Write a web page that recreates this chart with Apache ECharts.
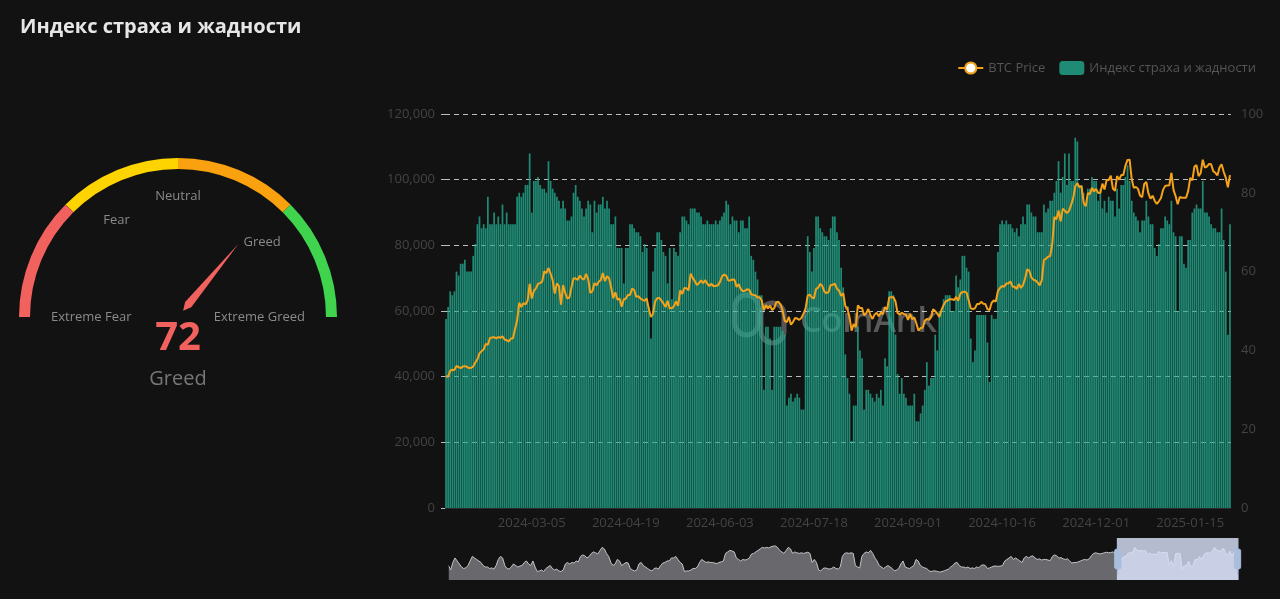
<!DOCTYPE html>
<html>
<head>
<meta charset="utf-8">
<script src="https://cdn.jsdelivr.net/npm/echarts@6/dist/echarts.min.js"></script>
<style>
html,body{margin:0;padding:0;background:#121212;}
#chart{width:1280px;height:599px;}
</style>
</head>
<body>
<div id="chart"></div>
<script>
// ---------- DATA ----------
const chartTitle = 'Индекс страха и жадности';
const seriesNames = ['BTC Price', 'Индекс страха и жадности'];
const firstDate = '2024-01-24';
const lastDate = '2025-02-03';
const missingDates = ['2024-10-25'];
const tickLabels = ['2024-03-05','2024-04-19','2024-06-03','2024-07-18','2024-09-01','2024-10-16','2024-12-01','2025-01-15'];
const gaugeLabels = {0: 'Extreme Fear', 30: 'Fear', 50: 'Neutral', 80: 'Greed', 100: 'Extreme Greed'};
const gaugeStateName = 'Greed';

const fearGreed = [
48,51,55,54,55,60,59,62,62,63,
60,60,60,64,67,72,74,71,72,71,
79,72,72,75,72,74,72,77,72,75,
72,72,72,72,79,80,79,80,82,82,
90,75,83,83,84,82,81,81,80,88,
83,81,80,79,78,76,78,76,73,73,
74,80,82,79,78,76,74,76,78,77,
70,78,75,77,77,79,76,78,76,72,
72,74,66,66,66,57,66,66,72,72,
71,70,70,69,65,67,66,51,43,60,
66,70,70,68,65,64,57,66,53,66,
65,64,70,74,74,73,72,76,76,76,
75,75,74,72,72,73,72,72,72,73,
72,73,74,75,78,77,72,74,73,73,
70,73,73,71,71,74,64,63,60,58,
54,54,30,46,46,43,30,46,46,46,
46,45,44,26,28,29,27,28,29,28,
25,25,49,69,65,60,66,74,74,71,
70,69,69,68,71,74,74,70,68,61,
56,39,33,29,17,26,26,46,40,38,
25,30,30,29,28,27,29,28,30,26,
38,36,55,55,54,44,34,29,33,29,
28,26,26,26,29,22,22,24,26,30,
37,31,33,33,44,40,50,50,53,54,
54,54,50,50,59,56,58,64,64,61,
60,43,37,40,49,49,49,49,49,42,
32,49,48,48,65,72,73,72,73,72,
72,71,70,71,69,72,74,72,77,77,
75,74,74,70,70,70,77,75,76,78,
78,80,83,88,80,84,90,82,90,83,
83,94,93,82,82,80,77,81,81,84,
83,83,78,81,76,78,75,79,78,78,
74,81,76,82,82,84,87,83,78,75,
74,73,70,73,73,78,74,72,72,66,
64,67,71,71,74,73,72,78,70,69,
50,69,69,62,61,68,68,75,76,77,
76,76,83,75,75,74,72,71,71,70,
70,76,68,60,44,72
];

const btcPrice = [
40100,40000,41800,42100,42000,43300,42900,42600,
43100,43200,43000,42600,42700,43100,44300,45300,47100,47800,48300,50000,49700,51800,51900,52100,51600,52100,51800,52300,51300,51100,50700,51600,51700,54500,57100,62500,61200,
62400,62000,63100,68300,63800,66100,66900,68300,68500,69000,72100,71500,73100,71400,69400,65300,68400,67600,61900,67900,65500,63800,64100,67200,70000,69900,69500,70800,69900,69600,71300,
69700,65500,66000,68500,67800,68900,69400,71600,69100,70600,70000,67100,63900,65700,63400,63800,61300,63500,63800,64900,64900,66800,66400,64300,64500,63800,63400,63100,63800,60600,
58200,59100,62900,63900,64000,63200,62300,61200,63100,60800,60800,61500,62900,61600,66300,65200,67000,66900,66300,71400,70100,69100,67900,68500,69300,68500,69400,68300,67600,68300,67500,
67700,67800,68800,70500,71100,70800,69300,69300,69600,69500,67300,68200,66700,66000,66200,66600,66500,65100,64900,64800,64100,64200,63200,60300,61800,60800,61600,60300,60900,62700,
62800,62000,60200,57000,56600,58200,55800,56700,57900,57700,57300,57900,59200,60800,64700,65000,64100,63900,66700,67100,68200,67600,65900,65400,65800,67900,68000,68300,66800,66200,64600,
65400,61500,60700,58100,54000,56000,55100,61700,60900,60900,58700,59300,60600,58700,57600,58900,59500,58400,59500,59000,61200,60400,64100,64200,64200,62900,59400,59000,59400,59100,58900,
57300,59100,57500,58000,56200,54000,54800,54900,57000,57600,57300,58100,60500,60000,59200,58200,60300,61800,62900,63200,63600,63600,63300,64300,63100,65200,65800,65900,65600,63300,
60800,60600,60800,62100,62100,62800,62200,62100,60600,60300,62500,63200,62900,66100,67000,67600,67400,68400,68400,69000,67400,67400,66700,68200,67000,67900,69900,72700,72300,70200,
69500,69300,68700,67800,69400,75600,75900,76500,76700,80400,88700,87900,90600,87300,91100,90600,89800,90500,92300,94300,98000,98900,97700,98000,93000,91900,95900,95600,97500,96400,
97200,95900,96000,98800,97000,99900,99900,101200,97300,96600,101100,100000,101400,101400,104300,106000,106100,100200,97500,97800,97200,95100,94700,98700,99300,95800,94200,95100,93600,92600,93400,
94400,96900,98100,98200,98300,102100,96900,95000,92500,94700,94500,94500,94500,96500,100500,99800,104000,104400,101100,102000,106100,103700,104000,104800,104700,102600,102100,101300,103700,104700,102400,
100600,97700,101400
];

// Weekly history of the index shown in the zoom slider (from 2018-02-05)
const historyStart = '2018-02-05';
const sliderHistory = [
30,15,40,55, 45,35,25,20, 22,30,45,60,55, 50,45,40,30,25, 25,20,22,18, 30,50,60,55, 30,20,18,25,35, 30,25,28,30, 40,45,35,30, 45,25,10,12, 15,10,20,25,30,
20,15,18,12, 10,15,35,40, 35,40,38,45,42, 60,65,62,55, 60,70,75,72, 68,80,90,85, 70,60,40,30,35, 50,45,30,35, 40,38,20,15, 12,15,35,40,30, 25,20,15,12, 20,22,18,30,38,
40,45,45,55, 55,60,50,40, 35,10,12,12,15, 20,20,25,40, 50,45,40,42, 40,40,38,36, 40,42,45,70,75, 80,78,75,55, 50,45,50,48, 50,55,68,70,75, 80,85,90,88, 90,88,92,94,95,
90,80,75,70, 80,90,85,70, 75,72,70,72,70, 72,74,70,40, 50,40,15,12,20, 22,20,18,20, 25,20,18,25, 60,70,72,70,72, 70,30,25,22, 60,70,75,72, 80,70,55,45,30, 25,20,25,30,
25,20,12,15,20, 35,45,25,22, 20,25,30,50, 45,30,25,22, 20,12,10,12,12, 10,8,10,12, 15,18,25,30, 38,40,30,25,25, 22,25,20,22, 20,25,22,30,32, 30,20,22,25, 28,28,27,28,
30,45,50,55, 60,50,55,50, 45,40,55,60,55, 60,62,55,50, 52,48,50,50, 48,46,60,65,62, 55,56,52,50, 52,45,38,40, 40,42,45,48, 50,48,52,62,70, 72,70,68,70, 72,74,72,73,75,
70,72,60,50, 60,60,71,72,72,90,81,78,80,78,79,66,72,66,68,65,76,72,73,73,74,30,46,27,69,70,70,17,30,30,44,26,30,50,50,60,49,65,71,72,70,80,90,80,78,78,87,73,64,78,61,76,71,72
];

// ---------- CATEGORY BUILDING ----------
function fmt(d) { return d.toISOString().slice(0, 10); }
function dayList(start, end, skip) {
  const out = []; const d = new Date(start + 'T00:00:00Z'); const e = new Date(end + 'T00:00:00Z');
  while (d <= e) { const s = fmt(d); if (skip.indexOf(s) < 0) out.push(s); d.setUTCDate(d.getUTCDate() + 1); }
  return out;
}
function weekList(start, n) {
  const out = []; const d = new Date(start + 'T00:00:00Z');
  for (let i = 0; i < n; i++) { out.push(fmt(d)); d.setUTCDate(d.getUTCDate() + 7); }
  return out;
}
const dates = dayList(firstDate, lastDate, missingDates);
const historyWeeks = weekList(historyStart, sliderHistory.length);

const FONT = '"Open Sans", "Noto Sans", sans-serif';
const chart = echarts.init(document.getElementById('chart'), null, {renderer: 'canvas'});

const option = {
  backgroundColor: '#121212',
  animation: false,
  textStyle: {fontFamily: FONT},
  title: {
    text: chartTitle, left: 15, top: 12,
    textStyle: {color: '#e6e6e6', fontSize: 20, fontWeight: 'bold', fontFamily: FONT}
  },
  legend: {
    data: seriesNames, right: 19, top: 56, itemWidth: 25, itemHeight: 14, itemGap: 14,
    textStyle: {color: '#555', fontSize: 13, fontFamily: FONT}
  },
  grid: {left: 445, right: 49, top: 114, bottom: 91, containLabel: false},
  xAxis: [
    {
      type: 'category', data: dates, boundaryGap: true, gridIndex: 0,
      axisLine: {show: true, lineStyle: {color: '#2a2a2a'}},
      axisTick: {show: false},
      axisLabel: {
        color: '#444', fontSize: 13, margin: 9, fontFamily: FONT,
        interval: function (idx, value) { return tickLabels.indexOf(value) >= 0; }
      },
      splitLine: {show: false}
    },
    {
      type: 'category', data: historyWeeks, show: false, gridIndex: 0, boundaryGap: false
    }
  ],
  yAxis: [
    {
      type: 'value', min: 0, max: 120000, interval: 20000, position: 'left',
      axisLine: {show: false},
      axisTick: {show: true, length: 4, lineStyle: {color: '#bbb'}},
      axisLabel: {color: '#444', fontSize: 13, margin: 10, fontFamily: FONT},
      splitLine: {show: true, lineStyle: {color: 'rgba(255,255,255,0.72)', type: [5, 4], width: 1}}
    },
    {
      type: 'value', min: 0, max: 100, interval: 20, position: 'right',
      axisLine: {show: false}, axisTick: {show: false},
      axisLabel: {color: '#444', fontSize: 13, margin: 10, fontFamily: FONT},
      splitLine: {show: false}
    }
  ],
  dataZoom: [{
    type: 'slider', xAxisIndex: [1], start: 84.6, end: 100,
    left: 446, right: 44, top: 538, height: 42,
    showDetail: false, brushSelect: false,
    backgroundColor: 'rgba(0,0,0,0)', borderColor: 'rgba(0,0,0,0)',
    fillerColor: 'rgba(208,215,238,0.86)',
    dataBackground: {
      lineStyle: {color: '#c4c4c8', width: 1, opacity: 1},
      areaStyle: {color: '#69696d', opacity: 1}
    },
    selectedDataBackground: {
      lineStyle: {color: '#ffffff', width: 1, opacity: 1},
      areaStyle: {color: '#9aa0b6', opacity: 1}
    },
    handleSize: '75%',
    handleStyle: {color: '#a9bddc', borderColor: '#a9bddc'},
    moveHandleSize: 0,
    emphasis: {handleStyle: {color: '#a9bddc'}}
  }],
  series: [
    {
      name: seriesNames[1], type: 'bar', xAxisIndex: 0, yAxisIndex: 1,
      data: fearGreed, barCategoryGap: '18%',
      itemStyle: {color: 'rgba(35,170,143,0.8)'},
      z: 2
    },
    {
      name: seriesNames[0], type: 'line', xAxisIndex: 0, yAxisIndex: 0,
      data: btcPrice, showSymbol: false, symbol: 'emptyCircle', symbolSize: 8,
      lineStyle: {color: '#f5a21b', width: 2},
      itemStyle: {color: '#f5a21b'},
      z: 3
    },
    {
      name: 'history', type: 'line', xAxisIndex: 1, yAxisIndex: 1,
      data: sliderHistory, showSymbol: false, silent: true,
      lineStyle: {opacity: 0}, itemStyle: {opacity: 0}, z: 0
    },
    {
      type: 'gauge', center: [178, 317], radius: 159,
      startAngle: 180, endAngle: 0, min: 0, max: 100, splitNumber: 10,
      axisLine: {lineStyle: {width: 11, color: [[0.25, '#f1625e'], [0.5, '#fdd300'], [0.75, '#f9a10f'], [1, '#3fd34e']]}},
      axisTick: {show: false},
      splitLine: {show: false, length: 10, distance: 10},
      axisLabel: {
        distance: 12, color: '#8a8a8a', fontSize: 13, fontFamily: FONT,
        formatter: function (v) { return gaugeLabels[Math.round(v)] || ''; }
      },
      pointer: {show: true, length: 79, width: 4, offsetCenter: [0, -16], itemStyle: {color: '#f1625e'}},
      anchor: {show: false},
      title: {show: true, offsetCenter: [0, 62], color: '#777', fontSize: 20, fontFamily: FONT},
      detail: {
        show: true, offsetCenter: [0, 22], color: '#f1625e', fontSize: 40, fontWeight: 'bold',
        fontFamily: FONT, formatter: '{value}', valueAnimation: false
      },
      data: [{value: fearGreed[fearGreed.length - 1], name: gaugeStateName}]
    }
  ],
  graphic: [
    {
      type: 'group', silent: true, z: 100,
      children: [
        {type: 'rect', shape: {x: 735, y: 295, width: 23, height: 40, r: 11.5},
         style: {fill: null, stroke: 'rgba(205,205,205,0.36)', lineWidth: 5}},
        {type: 'rect', shape: {x: 761, y: 303, width: 23, height: 40, r: 11.5},
         style: {fill: null, stroke: 'rgba(205,205,205,0.36)', lineWidth: 5}},
        {type: 'text', x: 800, y: 322,
         style: {text: 'CoinAnk', fill: 'rgba(205,205,205,0.38)', font: '600 34px ' + FONT, textVerticalAlign: 'middle', verticalAlign: 'middle'}}
      ]
    }
  ]
};
chart.setOption(option);
</script>
</body>
</html>
